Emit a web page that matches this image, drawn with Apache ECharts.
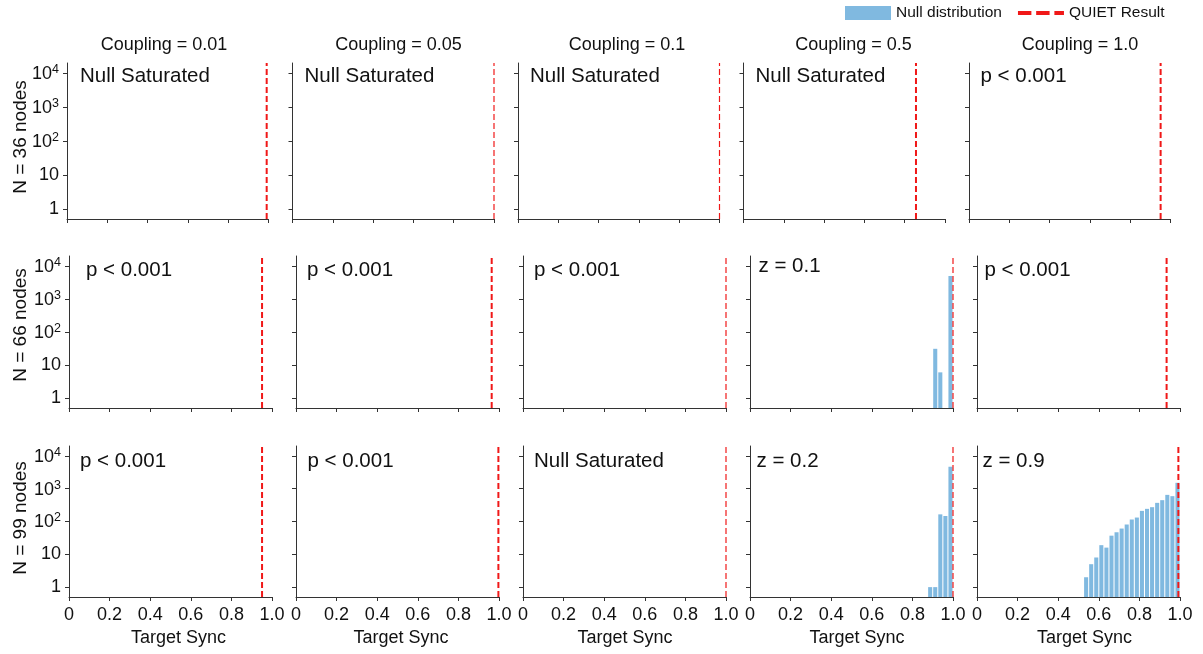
<!DOCTYPE html>
<html>
<head>
<meta charset="utf-8">
<title>QUIET null distributions</title>
<script src="https://cdn.jsdelivr.net/npm/echarts@6/dist/echarts.min.js"></script>
<style>
  html, body { margin: 0; padding: 0; background: #fff; }
  #chart { width: 1203px; height: 654px; }
</style>
</head>
<body>
<div id="chart"></div>
<script>
// ---- data ----
const couplings = ['0.01', '0.05', '0.1', '0.5', '1.0'];
const nodeCounts = [36, 66, 99];
const xTicks = [0, 0.2, 0.4, 0.6, 0.8, 1.0];
const yTicks = [1, 10, 100, 1000, 10000];

// QUIET result per coupling, one array per network size
const quiet36 = [0.991, 1.0, 1.0, 0.856, 0.951];
const quiet66 = [0.951, 0.964, 1.0, 1.0, 0.934];
const quiet99 = [0.951, 0.997, 1.0, 1.0, 0.992];

const notes36 = ['Null Saturated', 'Null Saturated', 'Null Saturated', 'Null Saturated', 'p < 0.001'];
const notes66 = ['p < 0.001', 'p < 0.001', 'p < 0.001', 'z = 0.1', 'p < 0.001'];
const notes99 = ['p < 0.001', 'p < 0.001', 'Null Saturated', 'z = 0.2', 'z = 0.9'];

// null histograms (bin left edge, count); empty panels have none
const binWidth = 0.025;
const bins66c05 = [0.9, 0.925, 0.975];
const counts66c05 = [31, 6, 4963];
const bins99c05 = [0.875, 0.9, 0.925, 0.95, 0.975];
const counts99c05 = [1, 1, 165, 147, 4686];
const bins99c10 = [0.525, 0.55, 0.575, 0.6, 0.625, 0.65, 0.675, 0.7, 0.725, 0.75,
                   0.775, 0.8, 0.825, 0.85, 0.875, 0.9, 0.925, 0.95, 0.975];
const counts99c10 = [2, 5, 8, 19, 16, 37, 47, 61, 81, 115,
                     132, 211, 243, 273, 370, 447, 648, 592, 1510];

// ---- layout ----
const rowTop = [63, 256, 446];
const rowHeight = [156, 152, 151];
const rowLeft = [[67, 292.5, 518, 743.5, 969], [69, 296, 523, 750, 977], [69, 296, 523, 750, 977]];
const rowWidth = [201.5, 203, 203];
const titleX = [164, 398.5, 627, 853.5, 1080];
const xNameX = [178.5, 401, 625, 857, 1084.5];
const rowNameY = [137, 325, 518];
const noteDx = [[13, 12, 12, 12, 11.5], [17, 11, 11, 8.5, 7.5], [11, 11.5, 11, 6.5, 5.5]];
const noteDy = [13, 14, 15];
const noteDyZ = [13, 10, 15];

const font = "'Liberation Sans', Arial, sans-serif";
const ink = '#111';
const axisColor = '#333';
const barColor = '#80b9e0';
const quietColor = '#f01818';

const quiet = [quiet36, quiet66, quiet99];
const notes = [notes36, notes66, notes99];
const hist = {
  '1-3': [bins66c05, counts66c05],
  '2-3': [bins99c05, counts99c05],
  '2-4': [bins99c10, counts99c10]
};

function logLabel(v) {
  const e = Math.log10(v);
  const r = Math.round(e);
  if (Math.abs(e - r) > 1e-6) return '';
  if (r < 2) return String(Math.pow(10, r));
  return '{b|10}{s|' + r + '}';
}

function renderBar(params, api) {
  const top = api.coord([api.value(0), api.value(2)]);
  const base = api.coord([api.value(1), 0.5]);
  const w = base[0] - top[0];
  const pad = w * 0.1;
  return {
    type: 'rect',
    shape: { x: top[0] + pad, y: top[1], width: w - 2 * pad, height: base[1] - top[1] },
    style: api.style()
  };
}

const grid = [], xAxis = [], yAxis = [], series = [], graphic = [];

for (let r = 0; r < 3; r++) {
  for (let c = 0; c < 5; c++) {
    const k = grid.length;
    grid.push({
      left: rowLeft[r][c], top: rowTop[r], width: rowWidth[r], height: rowHeight[r],
      containLabel: false, outerBoundsMode: 'none'
    });
    xAxis.push({
      type: 'value', gridIndex: k, min: 0, max: 1, interval: 0.2,
      axisLine: { show: true, onZero: false, lineStyle: { color: axisColor, width: 1 } },
      axisTick: { show: true, length: 4, lineStyle: { color: axisColor } },
      axisLabel: {
        show: r === 2, margin: 9, fontSize: 18, color: ink, fontFamily: font,
        formatter: v => (v === 0 ? '0' : v.toFixed(1))
      },
      splitLine: { show: false }
    });
    yAxis.push({
      type: 'log', logBase: 10, gridIndex: k, min: 0.5, max: 20000,
      axisLine: { show: true, onZero: false, lineStyle: { color: axisColor, width: 1 } },
      axisTick: { show: true, length: 4, customValues: yTicks, lineStyle: { color: axisColor } },
      axisLabel: {
        show: c === 0, customValues: yTicks, margin: 8, fontSize: 18, color: ink, fontFamily: font,
        formatter: logLabel,
        rich: {
          b: { fontSize: 18, lineHeight: 20, verticalAlign: 'bottom', color: ink, fontFamily: font },
          s: { fontSize: 12.5, lineHeight: 12.5, verticalAlign: 'top', color: ink, fontFamily: font }
        }
      },
      splitLine: { show: false }
    });

    const h = hist[r + '-' + c];
    const barData = h ? h[0].map((b, i) => [b, b + binWidth, h[1][i]]) : [];
    series.push({
      name: 'Null distribution', type: 'custom', xAxisIndex: k, yAxisIndex: k,
      renderItem: renderBar, data: barData, encode: { x: [0, 1], y: 2 },
      color: barColor, itemStyle: { color: barColor }, silent: true
    });

    const q = quiet[r][c];
    series.push({
      name: 'QUIET Result', type: 'line', xAxisIndex: k, yAxisIndex: k,
      data: [[q, 0.5], [q, 20000]], symbol: 'none', silent: true, z: 5,
      color: quietColor, itemStyle: { color: quietColor },
      lineStyle: { color: quietColor, width: q >= 1 ? 1.2 : 2, type: [6, 3] }
    });

    const note = notes[r][c];
    graphic.push({
      type: 'text', x: rowLeft[r][c] + noteDx[r][c],
      y: rowTop[r] + (note.charAt(0) === 'z' ? noteDyZ[r] : noteDy[r]),
      style: { text: note, fontSize: 20.5, fontFamily: font, fill: ink, align: 'left', verticalAlign: 'middle' }
    });
  }
  graphic.push({
    type: 'text', x: 20.5, y: rowNameY[r], rotation: Math.PI / 2,
    style: { text: 'N = ' + nodeCounts[r] + ' nodes', fontSize: 19, fontFamily: font, fill: ink, align: 'center', verticalAlign: 'middle' }
  });
}

for (let c = 0; c < 5; c++) {
  graphic.push({
    type: 'text', x: titleX[c], y: 45,
    style: { text: 'Coupling = ' + couplings[c], fontSize: 18, fontFamily: font, fill: ink, align: 'center', verticalAlign: 'middle' }
  });
  graphic.push({
    type: 'text', x: xNameX[c], y: 638,
    style: { text: 'Target Sync', fontSize: 18, fontFamily: font, fill: ink, align: 'center', verticalAlign: 'middle' }
  });
}

const chart = echarts.init(document.getElementById('chart'));
chart.setOption({
  animation: false,
  backgroundColor: '#fff',
  textStyle: { fontFamily: font },
  legend: {
    top: 0, left: 840, itemWidth: 46, itemHeight: 14, itemGap: 16,
    selectedMode: false,
    textStyle: { fontSize: 15.5, color: ink, fontFamily: font },
    data: [
      { name: 'Null distribution', icon: 'rect', itemStyle: { color: barColor } },
      { name: 'QUIET Result', icon: 'path://M0,0H14V4H0Z M19,0H33V4H19Z M38,0H48V4H38Z', itemStyle: { color: quietColor } }
    ]
  },
  grid: grid,
  xAxis: xAxis,
  yAxis: yAxis,
  series: series,
  graphic: graphic
});
</script>
</body>
</html>
